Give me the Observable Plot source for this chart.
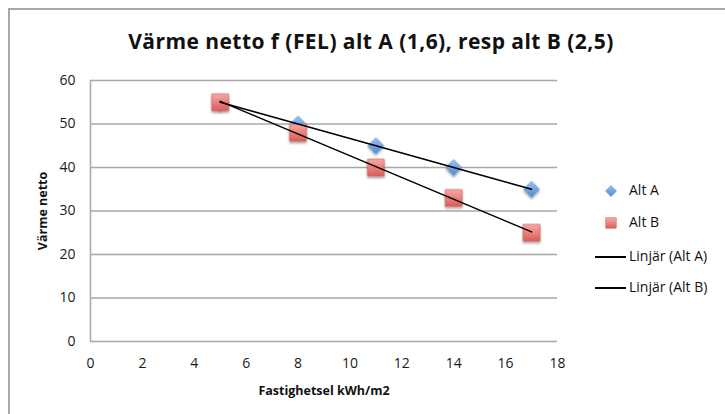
<!DOCTYPE html>
<html>
<head>
<meta charset="utf-8">
<script src="https://cdn.jsdelivr.net/npm/d3@7"></script>
<script src="https://cdn.jsdelivr.net/npm/@observablehq/plot@0.6"></script>
<style>
  html, body { margin: 0; padding: 0; background: #fff; }
  #wrap { position: relative; width: 725px; height: 414px; overflow: hidden; font-family: "Open Sans", sans-serif; }
  #frame { position: absolute; left: 8px; top: 8px; width: 800px; height: 500px; border-top: 2px solid #a8a8a8; border-left: 2px solid #a8a8a8; }
  #title { position: absolute; left: 0; width: 742px; top: 27px; line-height: normal; text-align: center; font-weight: bold; font-size: 21px; letter-spacing: 0.45px; color: #111; white-space: nowrap; }
  #chart { position: absolute; left: 0; top: 0; }
  .leg { position: absolute; font-size: 14px; color: #111; white-space: nowrap; }
</style>
</head>
<body>
<div id="wrap">
  <div id="frame"></div>
  <div id="chart"></div>
  <div id="title">Värme netto f (FEL) alt A (1,6), resp alt B (2,5)</div>
  <div id="legend"></div>
</div>
<script>
const xTicks = [0, 2, 4, 6, 8, 10, 12, 14, 16, 18];
const yTicks = [0, 10, 20, 30, 40, 50, 60];
const xValues = [5, 8, 11, 14, 17];
const altA = [55, 50, 45, 40, 35];
const altB = [55, 48, 40, 33, 25];
const seriesNames = ["Alt A", "Alt B", "Linjär (Alt A)", "Linjär (Alt B)"];

const dataA = xValues.map((x, i) => ({x, y: altA[i]}));
const dataB = xValues.map((x, i) => ({x, y: altB[i]}));

const svg = Plot.plot({
  width: 725,
  height: 414,
  marginLeft: 90,
  marginRight: 168,
  marginTop: 80,
  marginBottom: 73,
  style: {fontFamily: "Open Sans, sans-serif", fontSize: "14px", color: "#111", background: "transparent"},
  x: {domain: [0, 18], label: null},
  y: {domain: [0, 60], label: null},
  marks: [
    Plot.ruleY(yTicks, {stroke: "#a8a8a8", strokeWidth: 1.5}),
    Plot.ruleX([0], {stroke: "#a8a8a8", strokeWidth: 1.5}),
    Plot.axisX(xTicks, {tickSize: 0, tickPadding: 17, fontSize: 14, fill: "#1a1a1a"}),
    Plot.axisY(yTicks, {tickSize: 0, tickPadding: 15, fontSize: 14, fill: "#1a1a1a"}),
    Plot.text(["Fastighetsel kWh/m2"], {frameAnchor: "bottom", dy: 53, fontWeight: "bold", fontSize: 12.5, fill: "#111"}),
    Plot.text(["Värme netto"], {frameAnchor: "left", textAnchor: "middle", dx: -48, rotate: -90, fontWeight: "bold", fontSize: 12.5, fill: "#111"}),
    Plot.dot(dataA, {x: "x", y: "y", symbol: "diamond2", r: 7.2, fill: "url(#gradA)", stroke: "#4f86c6", strokeWidth: 0.6}),
    Plot.dot(dataB, {x: "x", y: "y", symbol: "square", r: 9.5, fill: "url(#gradB)", stroke: "#c4504c", strokeWidth: 0.6}),
    Plot.linearRegressionY(dataA, {x: "x", y: "y", stroke: "#000", strokeWidth: 1.6, ci: 0}),
    Plot.linearRegressionY(dataB, {x: "x", y: "y", stroke: "#000", strokeWidth: 1.6, ci: 0})
  ]
});

const root = d3.select(svg);
root.selectAll('g[aria-label$="tick label"]').attr("font-size", 14).style("font-size", "14px").attr("fill", "#1a1a1a");

const defs = root.insert("defs", ":first-child");
const gA = defs.append("linearGradient").attr("id", "gradA").attr("x1", 0).attr("y1", 0).attr("x2", 0).attr("y2", 1);
gA.append("stop").attr("offset", "0%").attr("stop-color", "#9cc3f2");
gA.append("stop").attr("offset", "100%").attr("stop-color", "#4d89d6");
const gB = defs.append("linearGradient").attr("id", "gradB").attr("x1", 0).attr("y1", 0).attr("x2", 0).attr("y2", 1);
gB.append("stop").attr("offset", "0%").attr("stop-color", "#f6aaa7");
gB.append("stop").attr("offset", "100%").attr("stop-color", "#dc5c58");
const sh = defs.append("filter").attr("id", "shadow").attr("x", "-50%").attr("y", "-50%").attr("width", "200%").attr("height", "200%");
sh.append("feDropShadow").attr("dx", 0).attr("dy", 2).attr("stdDeviation", 1.2).attr("flood-color", "#000").attr("flood-opacity", 0.35);
root.selectAll('g[aria-label="dot"]').attr("filter", "url(#shadow)");

document.getElementById("chart").appendChild(svg);

// legend
const legend = document.getElementById("legend");
const legY = [191, 223, 257, 288];
seriesNames.forEach((name, i) => {
  const y = legY[i];
  let icon;
  if (i === 0) icon = `<svg style="position:absolute;left:605px;top:${y-6}px" width="12" height="12"><polygon points="6,0.5 11.5,6 6,11.5 0.5,6" fill="url(#gradA)" stroke="#4f86c6" stroke-width="0.5"/></svg>`;
  else if (i === 1) icon = `<svg style="position:absolute;left:605px;top:${y-6}px" width="12" height="12"><rect x="0.8" y="0.8" width="10.4" height="10.4" fill="url(#gradB)" stroke="#c4504c" stroke-width="0.5"/></svg>`;
  else icon = `<div style="position:absolute;left:595px;top:${y-1}px;width:31px;height:1.5px;background:#000"></div>`;
  legend.insertAdjacentHTML("beforeend", icon + `<div class="leg" style="left:629px;top:${y-11}px">${name}</div>`);
});
</script>
</body>
</html>
